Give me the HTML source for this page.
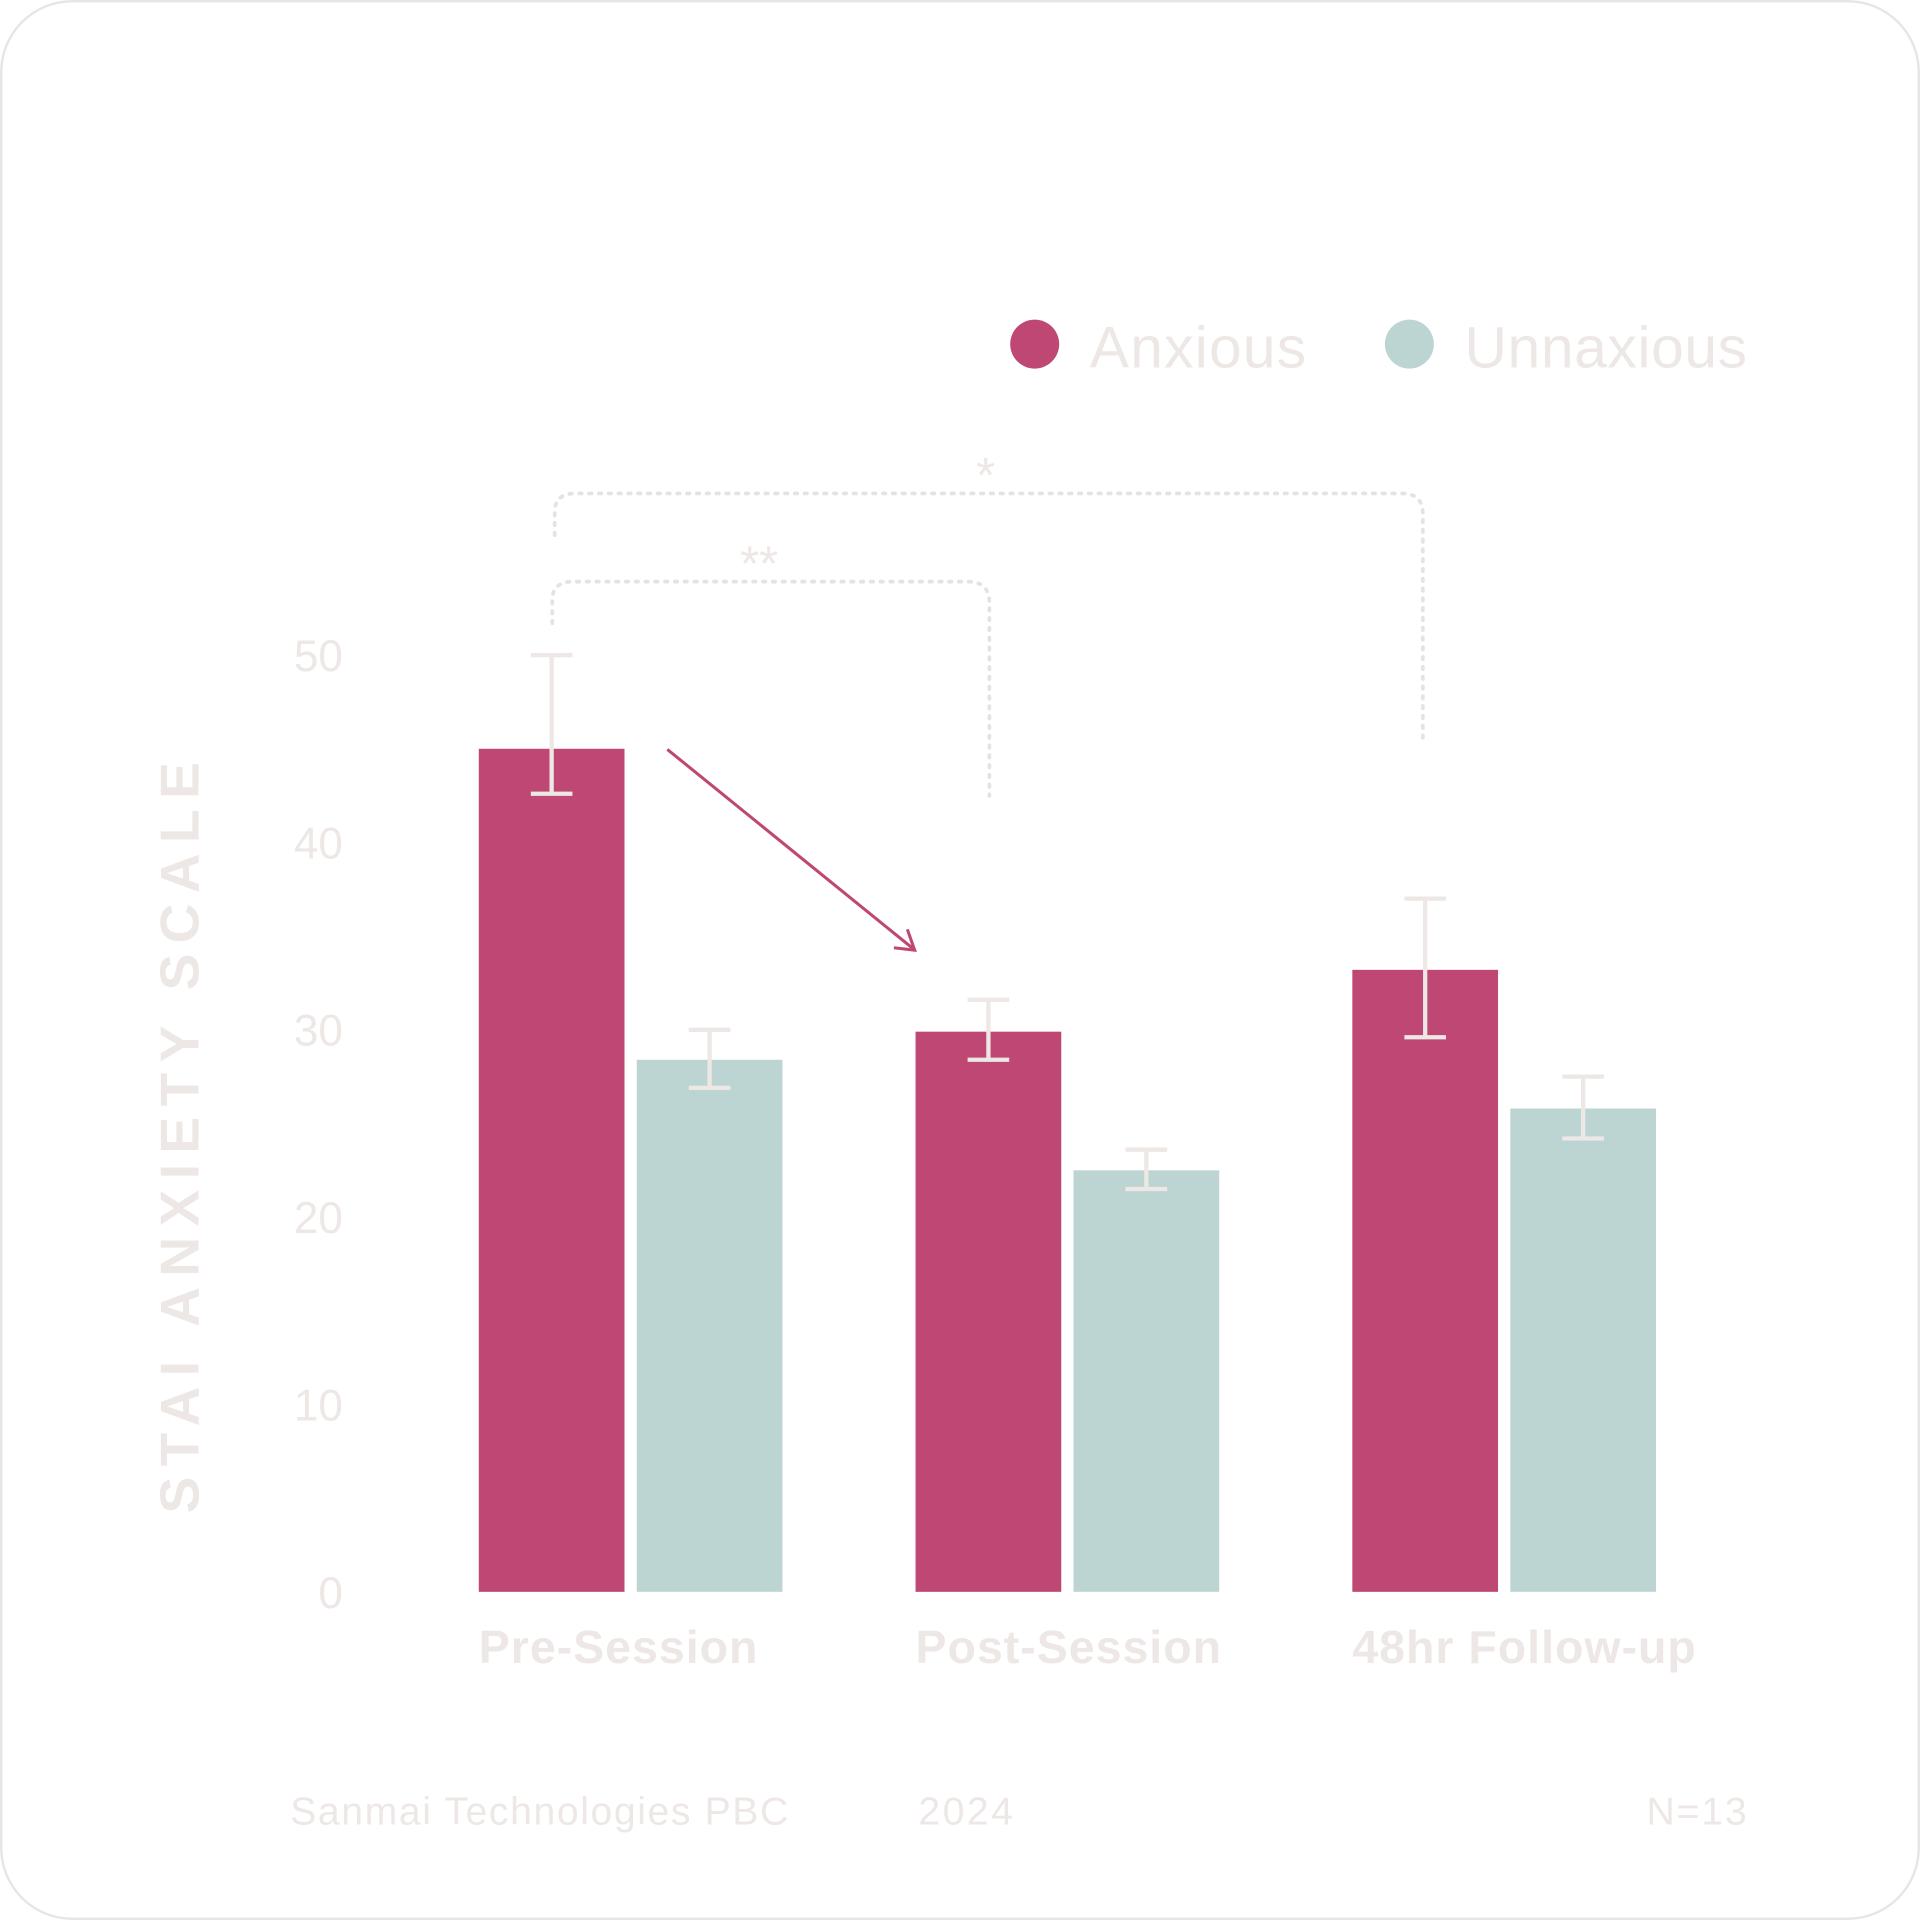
<!DOCTYPE html>
<html><head><meta charset="utf-8"><style>
html,body{margin:0;padding:0;background:#fff;width:1920px;height:1920px;overflow:hidden}
svg{display:block}
text{font-family:"Liberation Sans","DejaVu Sans",sans-serif}
</style></head><body>
<svg id="chart" width="1920" height="1920" viewBox="0 0 1568 1568" xmlns="http://www.w3.org/2000/svg">
<rect x="1" y="1" width="1566" height="1566" rx="58" fill="#fff" stroke="#e8e6e5" stroke-width="2"/>
<g id="yticks"></g>
<text transform="translate(162,925) rotate(-90)" text-anchor="middle" font-size="45" font-weight="bold" letter-spacing="8.5" fill="#ede8e6">STAI ANXIETY SCALE</text>
<g id="bars"></g>
<g id="xlabels"></g>
<g>
<circle cx="845" cy="281" r="20" fill="#be4873"/>
<text x="890" y="300" font-size="48" letter-spacing="1" fill="#ede8e6">Anxious</text>
<circle cx="1151" cy="281" r="20" fill="#bdd5d2"/>
<text x="1196" y="300" font-size="48" letter-spacing="0.5" fill="#ede8e6">Unnaxious</text>
</g>
<g fill="none" stroke="#e6e2e0" stroke-width="3" stroke-dasharray="2 6" stroke-linecap="round">
<path d="M453 437 V418 Q453 403 470 403 H1145 Q1162 403 1162 420 V608"/>
<path d="M451 509 V490 Q451 475 468 475 H790 Q808 475 808 492 V650"/>
</g>
<text x="805" y="402" text-anchor="middle" font-size="40" fill="#ede8e6">*</text>
<text x="620" y="474" text-anchor="middle" font-size="40" fill="#ede8e6">**</text>
<g stroke="#be4873" stroke-width="2.5" fill="none">
<line x1="545" y1="612" x2="746" y2="775"/>
<polyline points="741,759 747,776 730,774"/>
</g>
<text x="237" y="1490" font-size="32" letter-spacing="1.3" fill="#ede8e6">Sanmai Technologies PBC</text>
<text x="750" y="1490" font-size="32" letter-spacing="2" fill="#ede8e6">2024</text>
<text x="1428" y="1490" text-anchor="end" font-size="32" letter-spacing="1.5" fill="#ede8e6">N=13</text>
</svg>
<script>
const categories = ["Pre-Session","Post-Session","48hr Follow-up"];
const anxious = [45, 29.9, 33.2];
const anxiousErrLow = [42.6, 28.4, 29.6];
const anxiousErrHigh = [50, 31.6, 37];
const unanxious = [28.4, 22.5, 25.8];
const unanxiousErrLow = [26.9, 21.5, 24.2];
const unanxiousErrHigh = [30, 23.6, 27.5];
const yTicks = [0,10,20,30,40,50];

const NS="http://www.w3.org/2000/svg";
function y(v){return 1300 - v*15.3;}
function gx(i){return 391 + i*356.7;}
function mk(tag,attrs,parent){const e=document.createElementNS(NS,tag);for(const k in attrs)e.setAttribute(k,attrs[k]);parent.appendChild(e);return e;}
const yt=document.getElementById('yticks');
yTicks.forEach(t=>{
  const tx=mk('text',{x:280,y:y(t)+13,'text-anchor':'end','font-size':36,fill:'#ede8e6'},yt);
  tx.textContent=t;
  
  
});
const bars=document.getElementById('bars');
const W=119;
function bar(x,v,lo,hi,color,name){
  const r=mk('rect',{x:x,y:y(v),width:W,height:y(0)-y(v),fill:color},bars);
  
  
  const cx=x+W/2;
  const g=mk('g',{stroke:'#ede8e6','stroke-width':3.5},bars);
  
  
  mk('line',{x1:cx,x2:cx,y1:y(hi),y2:y(lo)},g);
  mk('line',{x1:cx-17,x2:cx+17,y1:y(hi),y2:y(hi)},g);
  mk('line',{x1:cx-17,x2:cx+17,y1:y(lo),y2:y(lo)},g);
}
const xl=document.getElementById('xlabels');
categories.forEach((c,i)=>{
  bar(gx(i),anxious[i],anxiousErrLow[i],anxiousErrHigh[i],'#be4873','bar-anxious-'+i);
  bar(gx(i)+W+10,unanxious[i],unanxiousErrLow[i],unanxiousErrHigh[i],'#bdd5d2','bar-unanxious-'+i);
  const t=mk('text',{x:gx(i),y:1358,'font-size':38,'font-weight':'bold','letter-spacing':0.8,fill:'#ede8e6'},xl);
  t.textContent=c;
  
  
});
</script>
</body></html>
